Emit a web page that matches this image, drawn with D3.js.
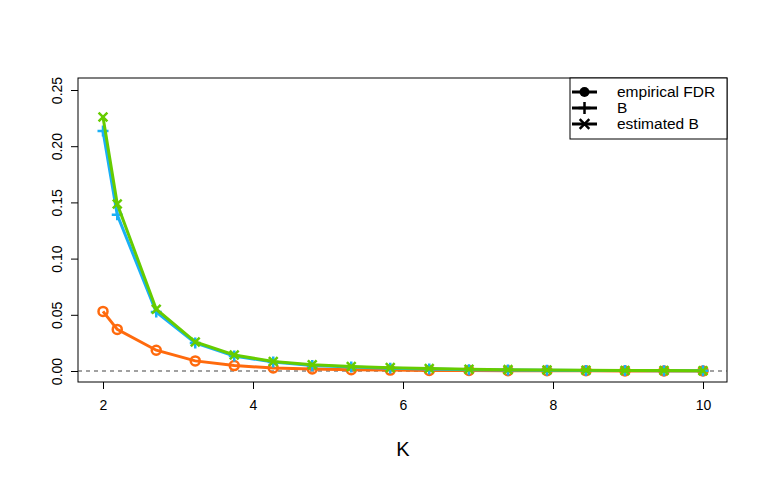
<!DOCTYPE html>
<html>
<head>
<meta charset="utf-8">
<script src="https://cdn.jsdelivr.net/npm/d3@7"></script>
<style>
  body { margin: 0; background: #fff; }
  text { font-family: "Liberation Sans", Arial, sans-serif; }
</style>
</head>
<body>
<svg id="chart" width="768" height="480"></svg>
<script>
// values
var K = [2, 2.19, 2.71, 3.23, 3.75, 4.27, 4.79, 5.31, 5.83, 6.35, 6.88, 7.4, 7.92, 8.44, 8.96, 9.48, 10];
var empFDR = [0.053, 0.037, 0.0185, 0.009, 0.0048, 0.0027, 0.0018, 0.0011, 0.0008, 0.0005, 0.0004, 0.0003, 0.0002, 0.0002, 0.0001, 0.0001, 0.0001];
var B = [0.2135, 0.139, 0.0525, 0.025, 0.0133, 0.008, 0.005, 0.0035, 0.0025, 0.0018, 0.0012, 0.001, 0.0007, 0.0005, 0.0004, 0.0003, 0.0002];
var estB = [0.226, 0.1485, 0.055, 0.0258, 0.0142, 0.0085, 0.0055, 0.004, 0.003, 0.0022, 0.0016, 0.0012, 0.0009, 0.0007, 0.0005, 0.0004, 0.0003];
var yTicks = [0, 0.05, 0.10, 0.15, 0.20, 0.25];
var xTicks = [2, 4, 6, 8, 10];
var legendLabels = ["empirical FDR", "B", "estimated B"];

var svg = d3.select("#chart");
var boxL = 78, boxR = 727, boxT = 78, boxB = 382;

var x = d3.scaleLinear().domain([2, 10]).range([103, 703]);
var y = d3.scaleLinear().domain([0, 0.25]).range([371, 90]);

// axes (R style: line only over tick range)
var yAxis = svg.append("g")
    .attr("transform", "translate(" + boxL + ",0)")
    .call(d3.axisLeft(y).tickValues(yTicks).tickFormat(d3.format(".2f")).tickSizeOuter(0).tickSize(7));
yAxis.select(".domain").remove();
yAxis.selectAll(".tick line").attr("stroke", "#000");
yAxis.selectAll(".tick text").remove();
yAxis.selectAll(".tick").append("text")
    .attr("transform", "translate(-21,0) rotate(-90)")
    .attr("text-anchor", "middle")
    .attr("dy", "0.35em")
    .attr("font-size", 14)
    .attr("fill", "#000")
    .text(function(d) { return d3.format(".2f")(d); });

var xAxis = svg.append("g")
    .attr("transform", "translate(0," + boxB + ")")
    .call(d3.axisBottom(x).tickValues(xTicks).tickFormat(d3.format("d")).tickSizeOuter(0).tickSize(7));
xAxis.select(".domain").remove();
xAxis.selectAll(".tick line").attr("stroke", "#000");
xAxis.selectAll("text").attr("font-size", 14).attr("fill", "#000").attr("dy", "1.3em");

// box
svg.append("rect")
    .attr("x", boxL).attr("y", boxT)
    .attr("width", boxR - boxL).attr("height", boxB - boxT)
    .attr("fill", "none").attr("stroke", "#000").attr("stroke-width", 1);

svg.append("text")
    .attr("x", 403).attr("y", 456)
    .attr("text-anchor", "middle")
    .attr("font-size", 20)
    .text("K");

// zero line
svg.append("line")
    .attr("x1", boxL).attr("x2", boxR)
    .attr("y1", y(0)).attr("y2", y(0))
    .attr("stroke", "#444").attr("stroke-width", 1.2)
    .attr("stroke-dasharray", "4,4");

var line = d3.line()
    .x(function(d) { return x(d[0]); })
    .y(function(d) { return y(d[1]); });

var series = [
  { vals: empFDR, color: "#ff6a0d", pch: "circle" },
  { vals: B, color: "#1ab0f5", pch: "plus" },
  { vals: estB, color: "#66cc00", pch: "cross" }
];

function drawMark(g, kind, cx, cy, color, s) {
  if (kind === "circle") {
    g.append("circle").attr("cx", cx).attr("cy", cy).attr("r", s)
      .attr("fill", "none").attr("stroke", color).attr("stroke-width", 2.5);
  } else if (kind === "dot") {
    g.append("circle").attr("cx", cx).attr("cy", cy).attr("r", s).attr("fill", color);
  } else if (kind === "plus") {
    g.append("path").attr("d", "M" + (cx - s) + "," + cy + "H" + (cx + s) + "M" + cx + "," + (cy - s) + "V" + (cy + s))
      .attr("stroke", color).attr("stroke-width", 2.5).attr("fill", "none");
  } else {
    var t = s * 0.8;
    g.append("path").attr("d", "M" + (cx - t) + "," + (cy - t) + "L" + (cx + t) + "," + (cy + t) + "M" + (cx - t) + "," + (cy + t) + "L" + (cx + t) + "," + (cy - t))
      .attr("stroke", color).attr("stroke-width", 2.5).attr("fill", "none");
  }
}

series.forEach(function(s) {
  var data = K.map(function(k, i) { return [k, s.vals[i]]; });
  var g = svg.append("g");
  g.append("path")
      .datum(data)
      .attr("d", line)
      .attr("fill", "none")
      .attr("stroke", s.color)
      .attr("stroke-width", 3);
  data.forEach(function(d) {
    drawMark(g, s.pch, x(d[0]), y(d[1]), s.color, s.pch === "circle" ? 4.5 : 5.5);
  });
});

// legend
var lg = svg.append("g");
lg.append("rect")
    .attr("x", 570).attr("y", boxT)
    .attr("width", boxR - 570).attr("height", 61)
    .attr("fill", "#fff").attr("stroke", "#000").attr("stroke-width", 1);
var legendPch = ["dot", "plus", "cross"];
legendLabels.forEach(function(lbl, i) {
  var ly = 92 + i * 16;
  lg.append("line")
      .attr("x1", 572).attr("x2", 597).attr("y1", ly).attr("y2", ly)
      .attr("stroke", "#000").attr("stroke-width", 3);
  drawMark(lg, legendPch[i], 584.5, ly, "#000", legendPch[i] === "dot" ? 5 : 6);
  lg.append("text")
      .attr("x", 617).attr("y", ly)
      .attr("dy", "0.35em")
      .attr("font-size", 15.5)
      .text(lbl);
});
</script>
</body>
</html>
